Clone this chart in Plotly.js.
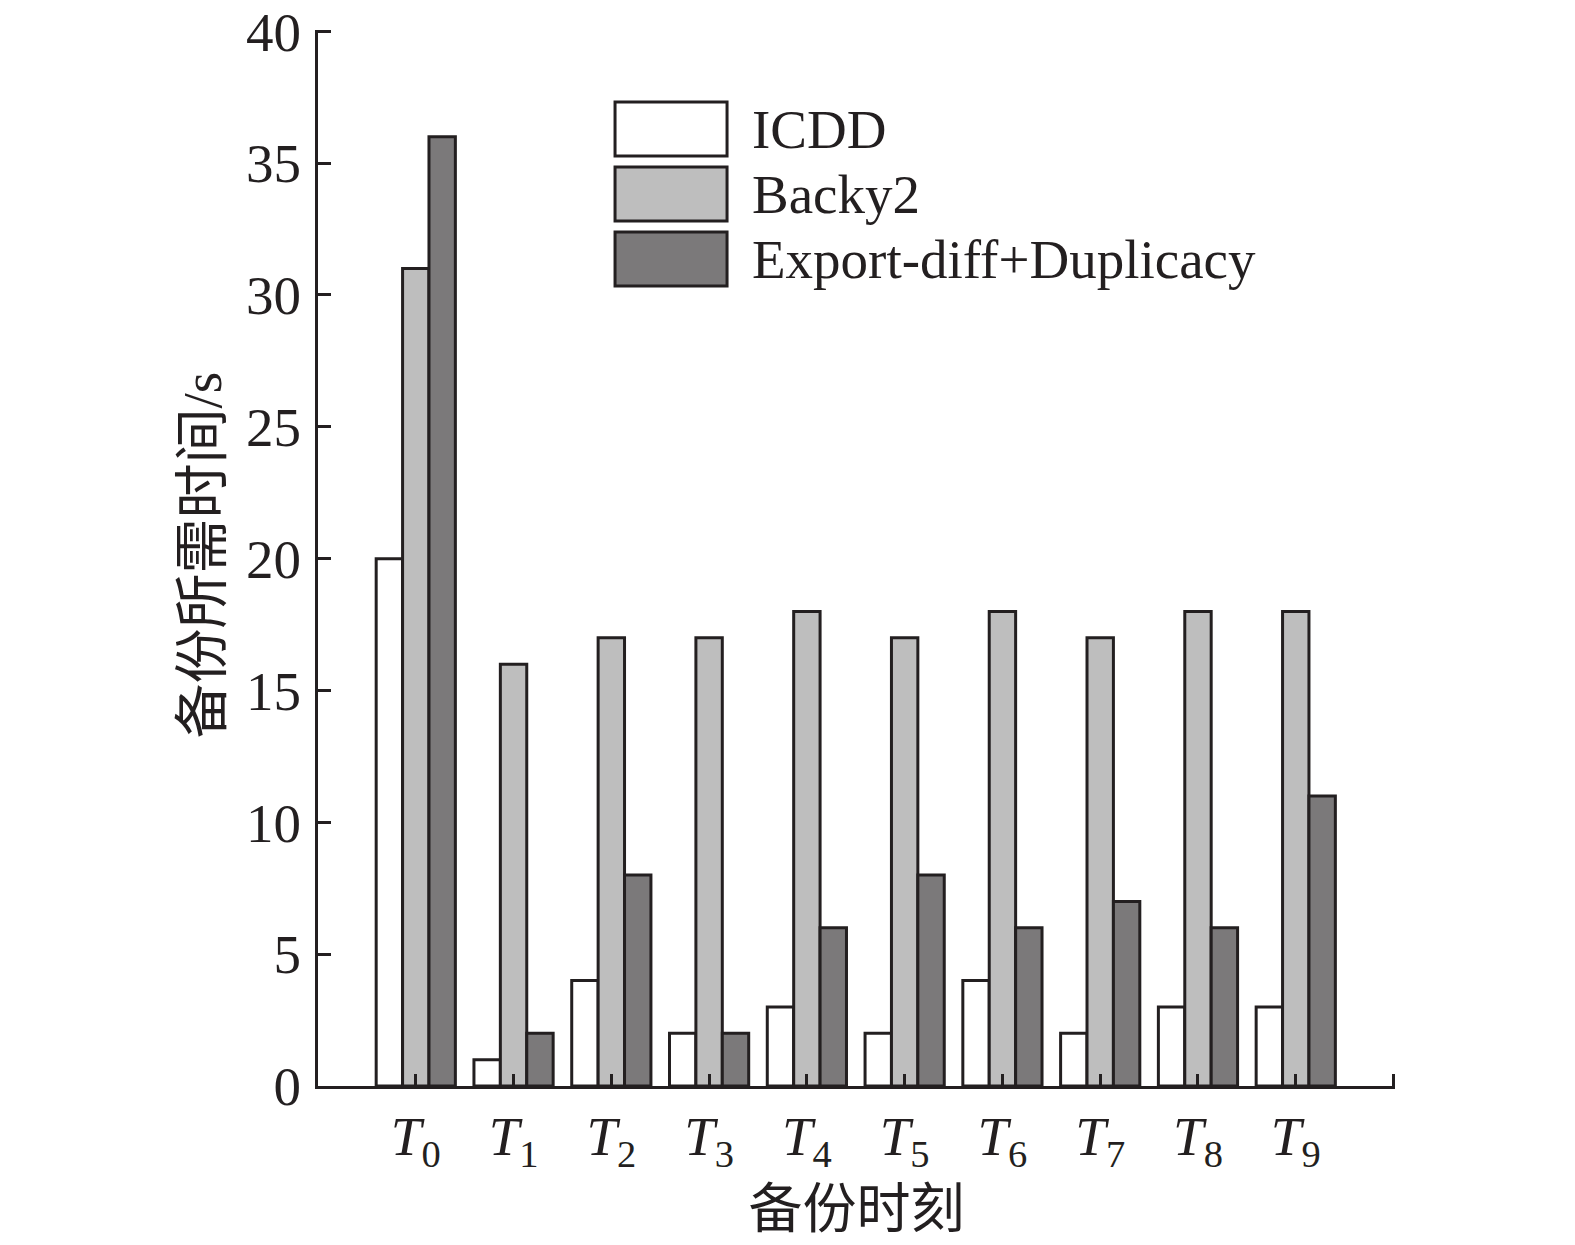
<!DOCTYPE html>
<html>
<head>
<meta charset="utf-8">
<script src="https://cdn.plot.ly/plotly-3.0.1.min.js"></script>
<style>
  html, body { margin: 0; padding: 0; background: #fff; }
  #chart { width: 1575px; height: 1245px; }
</style>
</head>
<body>
<div id="chart"></div>
<script>
// backup moments T0..T9
const moments = [0, 1, 2, 3, 4, 5, 6, 7, 8, 9];
const momentLabels = moments.map(i => '<i>T</i><sub>' + i + '</sub>');

// backup time (s)
const icdd = [20, 1, 4, 2, 3, 2, 4, 2, 3, 3];
const backy2 = [31, 16, 17, 17, 18, 17, 18, 17, 18, 18];
const exportDup = [36, 2, 8, 2, 6, 8, 6, 7, 6, 11];

const seriesNames = ['ICDD', 'Backy2', 'Export-diff+Duplicacy'];
const seriesColors = ['#ffffff', '#bebebe', '#7b797a'];
const seriesValues = [icdd, backy2, exportDup];

const yTicks = [0, 5, 10, 15, 20, 25, 30, 35, 40];

const ink = '#231f20';
const fontFamily = 'Liberation Serif, Noto Sans CJK SC, serif';

const traces = seriesNames.map((name, k) => ({
  type: 'bar',
  name: name,
  x: moments,
  y: seriesValues[k],
  marker: {
    color: seriesColors[k],
    line: { color: ink, width: 3 }
  },
  showlegend: false,
  hoverinfo: 'skip'
}));

// hand-made legend with large swatches
const legendShapes = [];
const notes = [];
const boxX0 = 0.2758, boxX1 = 0.3798;
const rowTop = 0.9318, boxH = 0.0511, rowStep = 0.0616;
seriesNames.forEach((name, k) => {
  const top = rowTop - k * rowStep;
  legendShapes.push({
    type: 'rect', xref: 'paper', yref: 'paper',
    x0: boxX0, x1: boxX1, y0: top - boxH, y1: top,
    fillcolor: seriesColors[k],
    line: { color: ink, width: 3 }
  });
  notes.push({
    xref: 'paper', yref: 'paper',
    x: 0.4011, xanchor: 'left',
    y: top - boxH / 2, yanchor: 'middle',
    text: name, showarrow: false,
    font: { family: fontFamily, size: 55, color: ink }
  });
});

// y-axis title
notes.push({
  xref: 'paper', yref: 'paper',
  x: -0.107, xanchor: 'center',
  y: 0.503, yanchor: 'middle',
  textangle: -90,
  text: '备份所需时间/s', showarrow: false,
  font: { family: fontFamily, size: 55, color: ink }
});

// ticks at -1 and 10 only mark the axis ends
const tickVals = [-1].concat(moments, [10]);
const tickText = [''].concat(momentLabels, ['']);

const layout = {
  width: 1575,
  height: 1245,
  margin: { l: 318, r: 180, t: 30, b: 159, pad: 0 },
  paper_bgcolor: '#ffffff',
  plot_bgcolor: '#ffffff',
  barmode: 'group',
  bargap: 0.19,
  bargroupgap: 0,
  font: { family: fontFamily, color: ink },
  xaxis: {
    range: [-1, 10.015],
    automargin: false,
    tickmode: 'array',
    tickvals: tickVals,
    ticktext: tickText,
    ticks: 'inside',
    ticklen: 12,
    tickwidth: 3,
    tickcolor: ink,
    showline: true,
    linecolor: ink,
    linewidth: 3,
    showgrid: false,
    zeroline: false,
    tickfont: { family: fontFamily, size: 55, color: ink },
    title: {
      text: '备份时刻',
      font: { family: fontFamily, size: 54, color: ink },
      standoff: 17
    }
  },
  yaxis: {
    range: [0, 40.05],
    automargin: false,
    tickmode: 'array',
    tickvals: yTicks,
    ticks: 'inside',
    ticklen: 13,
    tickwidth: 3,
    tickcolor: ink,
    showline: true,
    linecolor: ink,
    linewidth: 3,
    showgrid: false,
    zeroline: false,
    tickfont: { family: fontFamily, size: 55, color: ink },
    ticklabelstandoff: 3
  },
  shapes: legendShapes,
  annotations: notes
};

Plotly.newPlot('chart', traces, layout, { staticPlot: true, displayModeBar: false });
</script>
</body>
</html>
